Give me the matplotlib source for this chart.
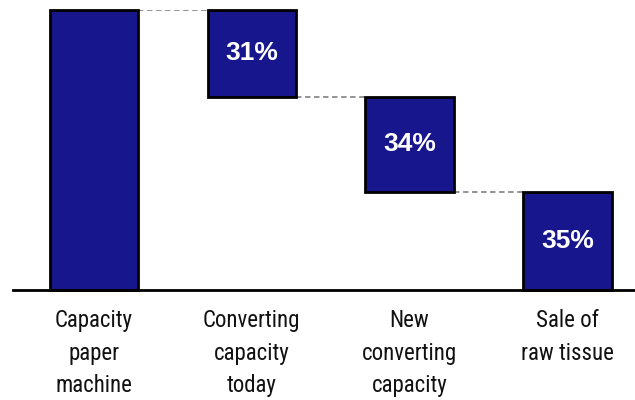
import matplotlib
matplotlib.use("Agg")
import matplotlib.pyplot as plt
from matplotlib import font_manager

categories = ["Capacity\npaper\nmachine", "Converting\ncapacity\ntoday",
              "New\nconverting\ncapacity", "Sale of\nraw tissue"]
total = 100
shares = [31, 34, 35]
share_labels = ["31%", "34%", "35%"]

bar_color = "#18168c"

names = {f.name for f in font_manager.fontManager.ttflist}
narrow = [n for n in ["Liberation Sans Narrow", "DejaVu Sans Condensed",
                      "Roboto Condensed", "Roboto"] if n in names]
fam = narrow[0] if narrow else "DejaVu Sans"

fig = plt.figure(figsize=(6.35, 4.0), dpi=100)
ax = fig.add_axes([13 / 635, 110 / 400, 622 / 635, 280 / 400])

# waterfall geometry: total bar, then shares stepping down
bottoms = [0]
heights = [total]
level = total
for s in shares:
    level -= s
    bottoms.append(level)
    heights.append(s)

x = list(range(len(categories)))
width = 0.56
ax.bar(x, heights, bottom=bottoms, width=width, color=bar_color,
       edgecolor="black", linewidth=2, clip_on=False, zorder=3)

# dashed connectors between consecutive bars
for i in range(len(x) - 1):
    y = bottoms[i] + (heights[i] if i == 0 else 0)
    ax.plot([x[i] + width / 2, x[i + 1] - width / 2], [y, y],
            color="#8a8a8a", linestyle=(0, (3, 2)), linewidth=1.3, zorder=2)

for i, lab in enumerate(share_labels):
    xi = x[i + 1]
    yi = bottoms[i + 1] + heights[i + 1] / 2
    ax.text(xi, yi, lab, ha="center", va="center", color="white",
            fontsize=19, fontweight="bold", family="Liberation Sans", zorder=4)

ax.set_xlim(-0.513, 3.428)
ax.set_ylim(0, 100)
for side in ["top", "right", "left"]:
    ax.spines[side].set_visible(False)
ax.spines["bottom"].set_linewidth(2)
ax.spines["bottom"].set_zorder(5)
ax.set_yticks([])
ax.set_xticks(x)
ax.set_xticklabels(categories, fontsize=16.5, family=fam,
                   linespacing=1.52, color="#111111")
ax.tick_params(axis="x", length=0, pad=14)

fig.savefig("out.png", dpi=100)
